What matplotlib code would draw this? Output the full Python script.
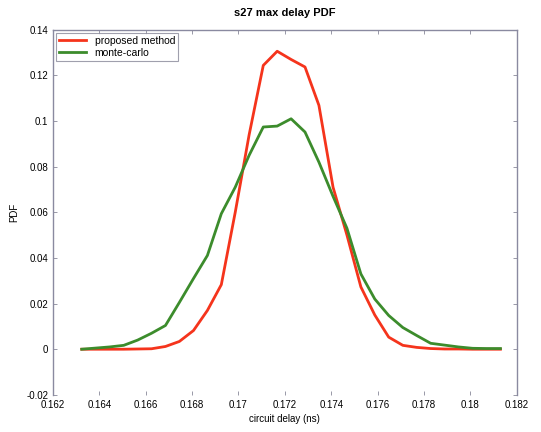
import matplotlib
matplotlib.use("Agg")
import matplotlib.pyplot as plt
from matplotlib.ticker import FuncFormatter

plt.rcParams["font.family"] = ["Liberation Sans", "DejaVu Sans"]

# circuit delay samples (ns)
delay = [0.16324, 0.16384, 0.16444, 0.16505, 0.16565, 0.16625, 0.16685, 0.16745,
         0.16806, 0.16866, 0.16926, 0.16986, 0.17046, 0.17107, 0.17167, 0.17227,
         0.17287, 0.17347, 0.17408, 0.17468, 0.17528, 0.17588, 0.17648, 0.17709,
         0.17769, 0.17829, 0.17889, 0.17949, 0.18010, 0.18070, 0.18130]

proposed = [0.0, 0.0, 0.0, 0.0, 0.0001, 0.0002, 0.0012, 0.0034,
            0.0082, 0.017, 0.0283, 0.060, 0.094, 0.1244, 0.1306, 0.127,
            0.1237, 0.1069, 0.071, 0.050, 0.0273, 0.015, 0.0053, 0.0017,
            0.0008, 0.0003, 0.0001, 0.0001, 0.0, 0.0, 0.0]

monte_carlo = [0.0, 0.0005, 0.001, 0.0017, 0.004, 0.007, 0.0104, 0.0205,
               0.031, 0.0411, 0.0594, 0.071, 0.085, 0.0974, 0.0978, 0.1010,
               0.0952, 0.082, 0.067, 0.053, 0.033, 0.022, 0.0148, 0.0095,
               0.006, 0.0026, 0.0018, 0.001, 0.0004, 0.0003, 0.0003]

fig = plt.figure(figsize=(5.41, 4.32), dpi=100)
ax = fig.add_axes([0.098, 0.086, 0.857, 0.845])

ax.plot(delay, proposed, color="#f5341c", lw=2.0, label="proposed method")
ax.plot(delay, monte_carlo, color="#3c8c2c", lw=2.0, label="monte-carlo")

ax.set_xlim(0.162, 0.182)
ax.set_ylim(-0.02, 0.14)
ax.set_xticks([0.162 + 0.002 * i for i in range(11)])
ax.set_yticks([-0.02 + 0.02 * i for i in range(9)])
ax.xaxis.set_major_formatter(FuncFormatter(lambda v, p: "%g" % round(v, 4)))
ax.yaxis.set_major_formatter(FuncFormatter(lambda v, p: "%g" % round(v, 4)))
ax.tick_params(direction="in", length=3, width=0.6, labelsize=7, color="#888899",
               top=True, right=True)

for side in ["left", "right", "top"]:
    ax.spines[side].set_color("#8a8aa0")
    ax.spines[side].set_linewidth(1.0)
ax.spines["bottom"].set_visible(False)

ax.set_title("s27 max delay PDF", fontsize=8, fontweight="bold", pad=10)
ax.set_xlabel("circuit delay (ns)", fontsize=7, labelpad=3)
ax.set_ylabel("PDF", fontsize=7, labelpad=5)

leg = ax.legend(loc="upper left", fontsize=7.5, frameon=True, fancybox=False,
                borderpad=0.3, handlelength=2.6, labelspacing=0.2,
                borderaxespad=0.3)
leg.get_frame().set_edgecolor("#888899")
leg.get_frame().set_linewidth(0.8)

fig.savefig("out.png", dpi=100)
